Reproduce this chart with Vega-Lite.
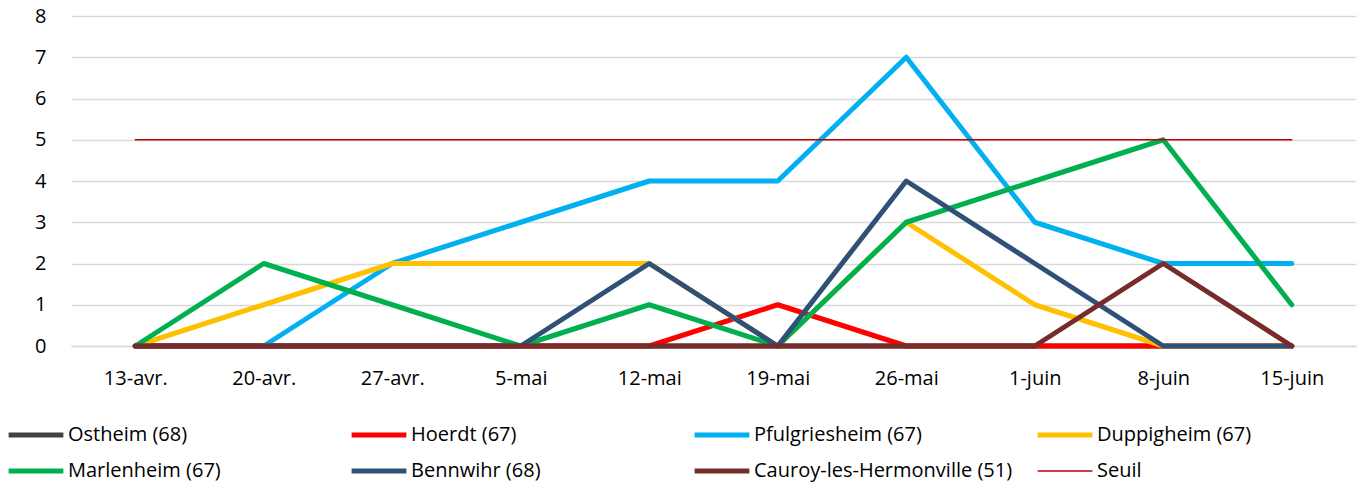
{
  "$schema": "https://vega.github.io/schema/vega-lite/v6.json",
  "autosize": "none",
  "width": 1285,
  "height": 330,
  "padding": {"left": 71, "top": 16, "right": 7, "bottom": 138},
  "background": "white",
  "config": {
    "view": {"stroke": null},
    "font": "Open Sans"
  },
  "data": {
    "values": [
      {"s":"Ostheim (68)","w":"13-avr.","v":0},{"s":"Ostheim (68)","w":"20-avr.","v":0},{"s":"Ostheim (68)","w":"27-avr.","v":0},{"s":"Ostheim (68)","w":"5-mai","v":0},{"s":"Ostheim (68)","w":"12-mai","v":0},{"s":"Ostheim (68)","w":"19-mai","v":0},{"s":"Ostheim (68)","w":"26-mai","v":0},{"s":"Ostheim (68)","w":"1-juin","v":0},{"s":"Ostheim (68)","w":"8-juin","v":0},{"s":"Ostheim (68)","w":"15-juin","v":0},
      {"s":"Hoerdt (67)","w":"13-avr.","v":0},{"s":"Hoerdt (67)","w":"20-avr.","v":0},{"s":"Hoerdt (67)","w":"27-avr.","v":0},{"s":"Hoerdt (67)","w":"5-mai","v":0},{"s":"Hoerdt (67)","w":"12-mai","v":0},{"s":"Hoerdt (67)","w":"19-mai","v":1},{"s":"Hoerdt (67)","w":"26-mai","v":0},{"s":"Hoerdt (67)","w":"1-juin","v":0},{"s":"Hoerdt (67)","w":"8-juin","v":0},{"s":"Hoerdt (67)","w":"15-juin","v":0},
      {"s":"Pfulgriesheim (67)","w":"20-avr.","v":0},{"s":"Pfulgriesheim (67)","w":"27-avr.","v":2},{"s":"Pfulgriesheim (67)","w":"5-mai","v":3},{"s":"Pfulgriesheim (67)","w":"12-mai","v":4},{"s":"Pfulgriesheim (67)","w":"19-mai","v":4},{"s":"Pfulgriesheim (67)","w":"26-mai","v":7},{"s":"Pfulgriesheim (67)","w":"1-juin","v":3},{"s":"Pfulgriesheim (67)","w":"8-juin","v":2},{"s":"Pfulgriesheim (67)","w":"15-juin","v":2},
      {"s":"Duppigheim (67)","w":"13-avr.","v":0},{"s":"Duppigheim (67)","w":"20-avr.","v":1},{"s":"Duppigheim (67)","w":"27-avr.","v":2},{"s":"Duppigheim (67)","w":"5-mai","v":2},{"s":"Duppigheim (67)","w":"12-mai","v":2},{"s":"Duppigheim (67)","w":"19-mai","v":0},{"s":"Duppigheim (67)","w":"26-mai","v":3},{"s":"Duppigheim (67)","w":"1-juin","v":1},{"s":"Duppigheim (67)","w":"8-juin","v":0},{"s":"Duppigheim (67)","w":"15-juin","v":0},
      {"s":"Marlenheim (67)","w":"13-avr.","v":0},{"s":"Marlenheim (67)","w":"20-avr.","v":2},{"s":"Marlenheim (67)","w":"27-avr.","v":1},{"s":"Marlenheim (67)","w":"5-mai","v":0},{"s":"Marlenheim (67)","w":"12-mai","v":1},{"s":"Marlenheim (67)","w":"19-mai","v":0},{"s":"Marlenheim (67)","w":"26-mai","v":3},{"s":"Marlenheim (67)","w":"1-juin","v":4},{"s":"Marlenheim (67)","w":"8-juin","v":5},{"s":"Marlenheim (67)","w":"15-juin","v":1},
      {"s":"Bennwihr (68)","w":"13-avr.","v":0},{"s":"Bennwihr (68)","w":"20-avr.","v":0},{"s":"Bennwihr (68)","w":"27-avr.","v":0},{"s":"Bennwihr (68)","w":"5-mai","v":0},{"s":"Bennwihr (68)","w":"12-mai","v":2},{"s":"Bennwihr (68)","w":"19-mai","v":0},{"s":"Bennwihr (68)","w":"26-mai","v":4},{"s":"Bennwihr (68)","w":"1-juin","v":2},{"s":"Bennwihr (68)","w":"8-juin","v":0},{"s":"Bennwihr (68)","w":"15-juin","v":0},
      {"s":"Cauroy-les-Hermonville (51)","w":"13-avr.","v":0},{"s":"Cauroy-les-Hermonville (51)","w":"20-avr.","v":0},{"s":"Cauroy-les-Hermonville (51)","w":"27-avr.","v":0},{"s":"Cauroy-les-Hermonville (51)","w":"5-mai","v":0},{"s":"Cauroy-les-Hermonville (51)","w":"12-mai","v":0},{"s":"Cauroy-les-Hermonville (51)","w":"19-mai","v":0},{"s":"Cauroy-les-Hermonville (51)","w":"26-mai","v":0},{"s":"Cauroy-les-Hermonville (51)","w":"1-juin","v":0},{"s":"Cauroy-les-Hermonville (51)","w":"8-juin","v":2},{"s":"Cauroy-les-Hermonville (51)","w":"15-juin","v":0},
      {"s":"Seuil","w":"13-avr.","v":5},{"s":"Seuil","w":"20-avr.","v":5},{"s":"Seuil","w":"27-avr.","v":5},{"s":"Seuil","w":"5-mai","v":5},{"s":"Seuil","w":"12-mai","v":5},{"s":"Seuil","w":"19-mai","v":5},{"s":"Seuil","w":"26-mai","v":5},{"s":"Seuil","w":"1-juin","v":5},{"s":"Seuil","w":"8-juin","v":5},{"s":"Seuil","w":"15-juin","v":5}
    ]
  },
  "mark": {"type": "line", "strokeCap": "round", "strokeJoin": "round"},
  "encoding": {
    "x": {
      "field": "w", "type": "ordinal",
      "sort": ["13-avr.","20-avr.","27-avr.","5-mai","12-mai","19-mai","26-mai","1-juin","8-juin","15-juin"],
      "scale": {"type": "point", "padding": 0.5},
      "axis": {"title": null, "labelAngle": 0, "labelFontSize": 20, "labelColor": "#000000", "ticks": false, "domain": true, "domainColor": "#d9d9d9", "domainWidth": 1.5, "labelPadding": 22, "grid": false}
    },
    "y": {
      "field": "v", "type": "quantitative",
      "scale": {"domain": [0, 8]},
      "axis": {"title": null, "values": [0,1,2,3,4,5,6,7,8], "labelFontSize": 20, "labelColor": "#000000", "ticks": false, "domain": false, "gridColor": "#d9d9d9", "gridWidth": 1.5, "labelPadding": 25}
    },
    "color": {
      "field": "s", "type": "nominal",
      "scale": {
        "domain": ["Ostheim (68)","Hoerdt (67)","Pfulgriesheim (67)","Duppigheim (67)","Marlenheim (67)","Bennwihr (68)","Cauroy-les-Hermonville (51)","Seuil"],
        "range": ["#404040","#ff0000","#00b0f0","#ffc000","#00b050","#2f5077","#772c2a","#c00000"]
      },
      "legend": {
        "title": null, "orient": "none", "legendX": -65, "legendY": 409,
        "columns": 4, "direction": "horizontal", "gridAlign": "all",
        "symbolType": "stroke", "symbolSize": 3000, "symbolStrokeWidth": 5,
        "labelFontSize": 20, "labelColor": "#000000", "labelOffset": 2,
        "clipHeight": 20,
        "columnPadding": 22, "rowPadding": 16, "labelLimit": 400
      }
    },
    "strokeWidth": {
      "field": "s", "type": "nominal",
      "scale": {
        "type": "ordinal",
        "domain": ["Ostheim (68)","Hoerdt (67)","Pfulgriesheim (67)","Duppigheim (67)","Marlenheim (67)","Bennwihr (68)","Cauroy-les-Hermonville (51)","Seuil"],
        "range": [5,5,5,5,5,5,5,1.5]
      },
      "legend": null
    }
  }
}
